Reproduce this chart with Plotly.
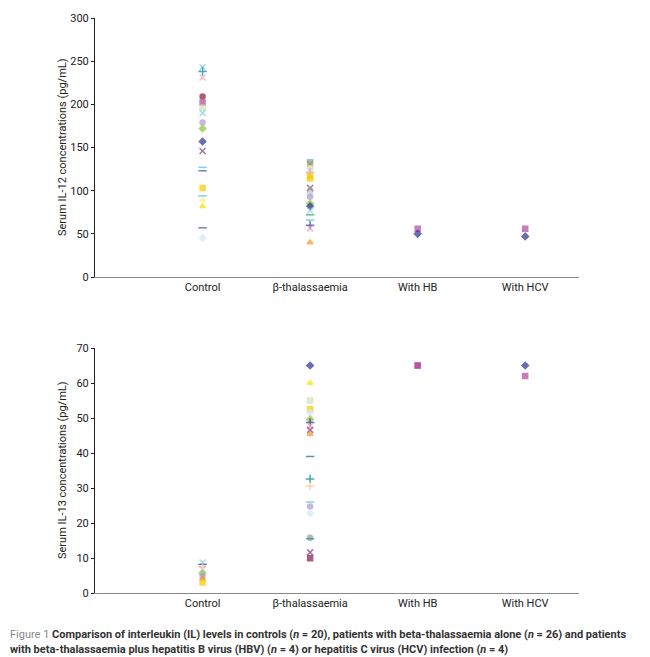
import plotly.graph_objects as go

# ---------------- data ----------------
categories = ["Control", "β-thalassaemia", "With HB", "With HCV"]

il12_control = [243, 238, 231, 209, 202, 196, 190, 179, 172, 157, 146, 127, 123, 103, 94, 89, 82, 57, 45]
il12_thal = [133, 131, 126, 121, 117, 114, 103, 100, 96, 93, 85, 82, 77, 72, 66, 60, 56, 40]
il12_hb = [56, 50]
il12_hcv = [56, 47]

il13_control = [8.7, 8.2, 7.5, 6.8, 6.1, 5.6, 4.8, 4.0, 3.0]
il13_thal = [65, 60, 55, 52.5, 51.5, 49.6, 48.7, 47.7, 46.6, 45.4, 39, 32.6, 30.6, 26, 24.7, 22.8, 15.8, 15.5, 11.6, 9.9]
il13_hb = [65, 65]
il13_hcv = [65, 62]

# ---------------- styles ----------------
palette = {
    0: ("diamond", "#2E3192"),
    1: ("square", "#B0479E"),
    2: ("triangle-up", "#F2E600"),
    3: ("x-thin", "#7CCDE6"),
    4: ("x-thin", "#7E3C7E"),
    5: ("circle", "#8B1A2A"),
    6: ("cross-thin", "#00808A"),
    7: ("line-ew", "#3A4FA0"),
    8: ("line-ew", "#3CC4DC"),
    9: ("square", "#F9C800"),
    10: ("square", "#CDE3B4"),
    11: ("diamond", "#D3EBF6"),
    12: ("circle", "#B09AD0"),
    13: ("diamond", "#8CC63F"),
    14: ("x-thin", "#F4A0C0"),
    15: ("triangle-up", "#F7941D"),
    16: ("cross-thin", "#FBC08A"),
    17: ("circle", "#9A9AA8"),
    18: ("line-ew", "#20A070"),
    19: ("triangle-up", "#F8EE8A"),
    20: ("square", "#4DB8C8"),
    21: ("x-thin", "#F07030"),
    22: ("cross-thin", "#E090C0"),
    23: ("cross-thin", "#2E3192"),
    24: ("square", "#8B1A4A"),
}

s_il12_control = [3, 6, 14, 5, 1, 10, 3, 12, 13, 0, 4, 8, 7, 9, 8, 19, 2, 7, 11]
s_il12_thal = [20, 21, 10, 22, 9, 9, 4, 17, 11, 12, 13, 0, 3, 18, 8, 23, 14, 15]
s_il12_hb = [1, 0]
s_il12_hcv = [1, 0]
s_il13_control = [3, 7, 16, 14, 11, 13, 12, 15, 9]
s_il13_thal = [0, 2, 10, 9, 11, 13, 23, 14, 4, 15, 7, 6, 16, 8, 12, 11, 17, 18, 4, 24]
s_il13_hb = [1, 1]
s_il13_hcv = [0, 1]

FONT = "Liberation Sans Narrow, Roboto, Arial, sans-serif"

fig = go.Figure()


def add_group(xpos, values, styles, xa, ya):
    syms = [palette[s][0] for s in styles]
    cols = [palette[s][1] for s in styles]
    sizes = [6 if palette[s][0] in ("x-thin", "cross-thin", "line-ew") else 5 for s in styles]
    fig.add_trace(go.Scatter(
        x=[xpos] * len(values), y=values, mode="markers",
        marker=dict(symbol=syms, color=cols, size=sizes,
                    line=dict(color=cols, width=1.5)),
        xaxis=xa, yaxis=ya, showlegend=False, hoverinfo="y"))


top = [(il12_control, s_il12_control), (il12_thal, s_il12_thal), (il12_hb, s_il12_hb), (il12_hcv, s_il12_hcv)]
bot = [(il13_control, s_il13_control), (il13_thal, s_il13_thal), (il13_hb, s_il13_hb), (il13_hcv, s_il13_hcv)]
for i, (v, s) in enumerate(top):
    add_group(i + 1, v, s, "x", "y")
for i, (v, s) in enumerate(bot):
    add_group(i + 1, v, s, "x2", "y2")

W, H = 650, 657
xdom = [95 / W, 579 / W]
ydom_top = [(H - 277) / H, (H - 18) / H]
ydom_bot = [(H - 593) / H, (H - 348) / H]

xaxis_common = dict(range=[0, 4.5], tickvals=[1, 2, 3, 4], ticktext=categories,
                    showgrid=False, zeroline=False, showline=True, linecolor="#8a8a8a",
                    linewidth=1, ticks="", tickfont=dict(family=FONT, size=11, color="#222"),
                    domain=xdom, fixedrange=True, automargin=False)
yaxis_common = dict(showgrid=False, zeroline=False, showline=True, linecolor="#222",
                    linewidth=1, ticks="outside", ticklen=3, tickcolor="#222",
                    tickfont=dict(family=FONT, size=11, color="#222"), fixedrange=True,
                    automargin=False)

fig.update_layout(
    width=W, height=H, margin=dict(l=0, r=0, t=0, b=0, autoexpand=False),
    paper_bgcolor="white", plot_bgcolor="white",
    xaxis=dict(**xaxis_common, anchor="y"),
    yaxis=dict(**yaxis_common, range=[0, 300], dtick=50, domain=ydom_top, anchor="x"),
    xaxis2=dict(**xaxis_common, anchor="y2"),
    yaxis2=dict(**yaxis_common, range=[0, 70], dtick=10, domain=ydom_bot, anchor="x2"),
)

fig.add_annotation(x=62 / W, y=(H - 147) / H, xref="paper", yref="paper", textangle=-90,
                   xanchor="center", yanchor="middle",
                   text="Serum IL-12 concentrations (pg/mL)", showarrow=False,
                   font=dict(family=FONT, size=11, color="#222"))
fig.add_annotation(x=62 / W, y=(H - 470) / H, xref="paper", yref="paper", textangle=-90,
                   xanchor="center", yanchor="middle",
                   text="Serum IL-13 concentrations (pg/mL)", showarrow=False,
                   font=dict(family=FONT, size=11, color="#222"))

cap1 = ("<span style='color:#8a8a8a'>Figure 1</span> <b>Comparison of interleukin (IL) levels in controls (<i>n</i> = 20), "
        "patients with beta-thalassaemia alone (<i>n</i> = 26) and patients</b>")
cap2 = ("<b>with beta-thalassaemia plus hepatitis B virus (HBV) (<i>n</i> = 4) or hepatitis C virus (HCV) infection (<i>n</i> = 4)</b>")
fig.add_annotation(x=8 / W, y=(H - 634) / H, xref="paper", yref="paper", xanchor="left", yanchor="middle",
                   text=cap1, showarrow=False, font=dict(family=FONT, size=11, color="#333"))
fig.add_annotation(x=8 / W, y=(H - 649) / H, xref="paper", yref="paper", xanchor="left", yanchor="middle",
                   text=cap2, showarrow=False, font=dict(family=FONT, size=11, color="#333"))

fig.write_html("out.html", config={"displayModeBar": False},
               post_script="document.body.style.margin='0';document.body.style.overflow='hidden';")
